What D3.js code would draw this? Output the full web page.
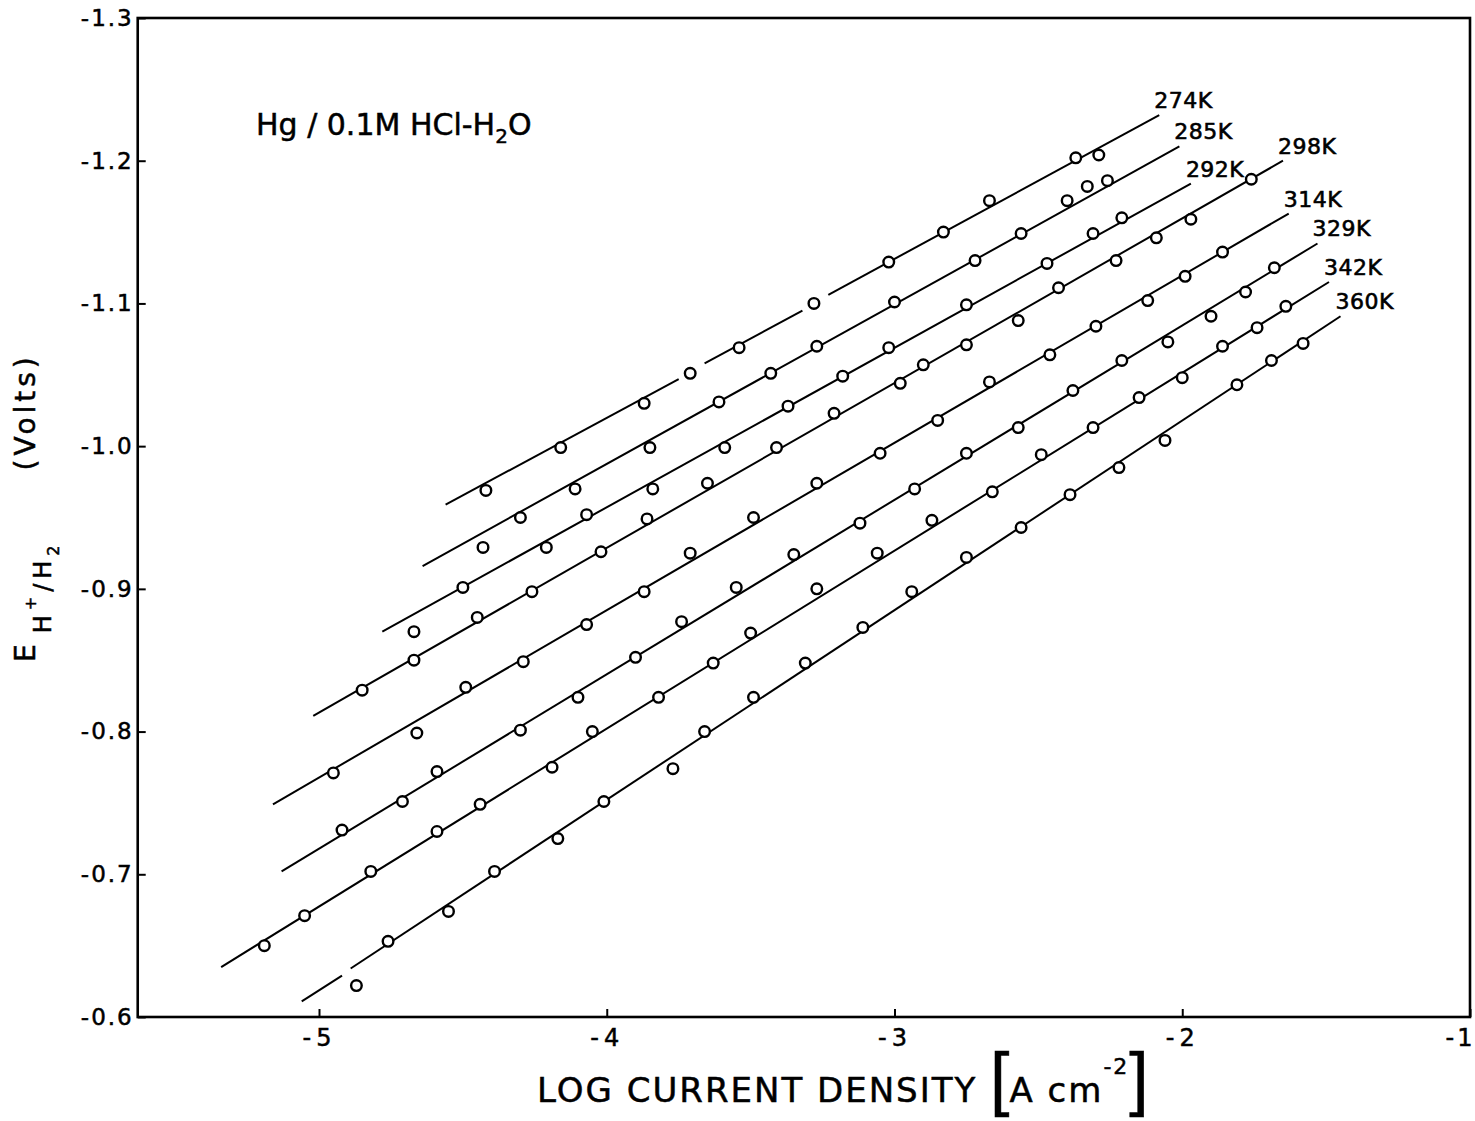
<!DOCTYPE html>
<html>
<head>
<meta charset="utf-8" />
<script src="https://d3js.org/d3.v7.min.js"></script>
<title>Hg / 0.1M HCl-H2O Tafel lines</title>
<style>
  body { margin: 0; background: #fff; }
  text { font-family: "DejaVu Sans", sans-serif; fill: #000; }
</style>
</head>
<body>
<div id="chart"></div>
<script>
// tick values and labels
var xTicks = [-5, -4, -3, -2, -1];
var xTickLabels = ["-5", "-4", "-3", "-2", "-1"];
var yTicks = [-1.3, -1.2, -1.1, -1.0, -0.9, -0.8, -0.7, -0.6];
var yTickLabels = ["-1.3", "-1.2", "-1.1", "-1.0", "-0.9", "-0.8", "-0.7", "-0.6"];

var temps = ["274K", "285K", "292K", "298K", "314K", "329K", "342K", "360K"];

// measured points [log i, E] for each temperature
var s274 = [[-4.42,-0.969],[-4.16,-0.999],[-3.87,-1.030],[-3.71,-1.051],[-3.54,-1.069],[-3.28,-1.100],
            [-3.02,-1.129],[-2.83,-1.150],[-2.67,-1.172],[-2.37,-1.202],[-2.29,-1.204]];
var s285 = [[-4.43,-0.929],[-4.30,-0.950],[-4.11,-0.970],[-3.85,-0.999],[-3.61,-1.031],[-3.43,-1.051],
            [-3.27,-1.070],[-3.00,-1.101],[-2.72,-1.130],[-2.56,-1.149],[-2.40,-1.172],[-2.33,-1.182],[-2.26,-1.186]];
var s292 = [[-4.67,-0.870],[-4.50,-0.901],[-4.21,-0.929],[-4.07,-0.952],[-3.84,-0.970],[-3.59,-0.999],
            [-3.37,-1.028],[-3.18,-1.049],[-3.02,-1.069],[-2.75,-1.099],[-2.47,-1.128],[-2.31,-1.149],[-2.21,-1.160]];
var s298 = [[-4.85,-0.829],[-4.67,-0.850],[-4.45,-0.880],[-4.26,-0.898],[-4.02,-0.926],[-3.86,-0.949],
            [-3.65,-0.974],[-3.41,-0.999],[-3.21,-1.023],[-2.98,-1.044],[-2.90,-1.057],[-2.75,-1.071],
            [-2.57,-1.088],[-2.43,-1.111],[-2.23,-1.130],[-2.09,-1.146],[-1.97,-1.159],[-1.76,-1.187]];
var s314 = [[-4.95,-0.771],[-4.66,-0.799],[-4.49,-0.831],[-4.29,-0.849],[-4.07,-0.875],[-3.87,-0.898],
            [-3.71,-0.925],[-3.49,-0.950],[-3.27,-0.974],[-3.05,-0.995],[-2.85,-1.018],[-2.67,-1.045],
            [-2.46,-1.064],[-2.30,-1.084],[-2.12,-1.102],[-1.99,-1.119],[-1.86,-1.136]];
var s329 = [[-4.92,-0.731],[-4.71,-0.751],[-4.59,-0.772],[-4.30,-0.801],[-4.10,-0.824],[-3.90,-0.852],
            [-3.74,-0.877],[-3.55,-0.901],[-3.35,-0.924],[-3.12,-0.946],[-2.93,-0.970],[-2.75,-0.995],
            [-2.57,-1.013],[-2.38,-1.039],[-2.21,-1.060],[-2.05,-1.073],[-1.90,-1.091],[-1.78,-1.108],[-1.68,-1.125]];
var s342 = [[-5.19,-0.650],[-5.05,-0.671],[-4.82,-0.702],[-4.59,-0.730],[-4.44,-0.749],[-4.19,-0.775],
            [-4.05,-0.800],[-3.82,-0.824],[-3.63,-0.848],[-3.50,-0.869],[-3.27,-0.900],[-3.06,-0.925],
            [-2.87,-0.948],[-2.66,-0.968],[-2.49,-0.994],[-2.31,-1.013],[-2.15,-1.034],[-2.00,-1.048],
            [-1.86,-1.070],[-1.74,-1.083],[-1.64,-1.098]];
var s360 = [[-4.87,-0.622],[-4.76,-0.653],[-4.55,-0.674],[-4.39,-0.702],[-4.17,-0.725],[-4.01,-0.751],
            [-3.77,-0.774],[-3.66,-0.800],[-3.49,-0.824],[-3.31,-0.848],[-3.11,-0.873],[-2.94,-0.898],
            [-2.75,-0.922],[-2.56,-0.943],[-2.39,-0.966],[-2.22,-0.985],[-2.06,-1.004],[-1.81,-1.043],
            [-1.69,-1.060],[-1.58,-1.072]];

// fitted straight lines (drawn with small breaks where the original has them)
var fit274 = [[[-4.56,-0.959],[-3.75,-1.047]], [[-3.66,-1.058],[-3.32,-1.095]], [[-3.23,-1.106],[-2.08,-1.232]]];
var fit285 = [[[-4.64,-0.916],[-2.01,-1.210]]];
var fit292 = [[[-4.78,-0.870],[-1.97,-1.184]]];
var fit298 = [[[-5.02,-0.811],[-1.65,-1.200]]];
var fit314 = [[[-5.16,-0.749],[-1.63,-1.163]]];
var fit329 = [[[-5.13,-0.702],[-1.53,-1.142]]];
var fit342 = [[[-5.34,-0.635],[-1.49,-1.115]]];
var fit360 = [[[-5.06,-0.611],[-4.92,-0.629]], [[-4.89,-0.634],[-1.45,-1.091]]];

var points = [s274, s285, s292, s298, s314, s329, s342, s360];
var fits = [fit274, fit285, fit292, fit298, fit314, fit329, fit342, fit360];

var width = 1475, height = 1121;

var svg = d3.select("#chart")
  .append("svg")
    .attr("width", width)
    .attr("height", height);

var x = d3.scaleLinear().domain([-5, -1]).range([319, 1470]);
var y = d3.scaleLinear().domain([-0.6, -1.3]).range([1017, 18]);
var xLeft = -5.63;

// frame
svg.append("rect")
  .attr("x", x(xLeft))
  .attr("y", y(-1.3))
  .attr("width", x(-1) - x(xLeft))
  .attr("height", y(-0.6) - y(-1.3))
  .attr("fill", "none")
  .attr("stroke", "#000")
  .attr("stroke-width", 2.6);

// x axis
var xAxis = svg.append("g")
  .attr("transform", "translate(0," + y(-0.6) + ")")
  .call(d3.axisBottom(x)
    .tickValues(xTicks)
    .tickSizeInner(-8)
    .tickSizeOuter(0)
    .tickPadding(12)
    .tickFormat(function(d, i) { return xTickLabels[i]; }));
xAxis.select(".domain").remove();
xAxis.selectAll("line").attr("stroke-width", 2);
xAxis.selectAll("text")
  .attr("font-family", "DejaVu Sans, sans-serif")
  .attr("font-size", 24)
  .attr("letter-spacing", 5)
  .attr("stroke", "#000")
  .attr("stroke-width", 0.5);
// the last label sits on the page edge: keep it inside
xAxis.selectAll("text")
  .filter(function(d) { return d === -1; })
  .attr("text-anchor", "end")
  .attr("letter-spacing", 3)
  .attr("dx", 5);

// y axis
var yAxis = svg.append("g")
  .attr("transform", "translate(" + x(xLeft) + ",0)")
  .call(d3.axisLeft(y)
    .tickValues(yTicks)
    .tickSizeInner(-8)
    .tickSizeOuter(0)
    .tickPadding(4)
    .tickFormat(function(d, i) { return yTickLabels[i]; }));
yAxis.select(".domain").remove();
yAxis.selectAll("line").attr("stroke-width", 2);
yAxis.selectAll("text")
  .attr("font-family", "DejaVu Sans, sans-serif")
  .attr("font-size", 23)
  .attr("letter-spacing", 2)
  .attr("stroke", "#000")
  .attr("stroke-width", 0.5);

// fitted lines
fits.forEach(function(segs) {
  svg.append("g")
    .selectAll("line")
    .data(segs)
    .enter()
    .append("line")
      .attr("x1", function(d) { return x(d[0][0]); })
      .attr("y1", function(d) { return y(d[0][1]); })
      .attr("x2", function(d) { return x(d[1][0]); })
      .attr("y2", function(d) { return y(d[1][1]); })
      .attr("stroke", "#000")
      .attr("stroke-width", 2);
});

// data points
points.forEach(function(pts) {
  svg.append("g")
    .selectAll("circle")
    .data(pts)
    .enter()
    .append("circle")
      .attr("cx", function(d) { return x(d[0]); })
      .attr("cy", function(d) { return y(d[1]); })
      .attr("r", 5.3)
      .attr("fill", "#fff")
      .attr("stroke", "#000")
      .attr("stroke-width", 2.4);
});

// temperature labels at the top end of each line
fits.forEach(function(segs, i) {
  var end = segs[segs.length - 1][1];
  svg.append("text")
    .attr("x", x(end[0]) - 5)
    .attr("y", y(end[1]) - 7)
    .attr("font-size", 22)
    .attr("letter-spacing", 0.5)
    .attr("stroke", "#000")
    .attr("stroke-width", 0.6)
    .text(temps[i]);
});

// system label
var title = svg.append("text")
  .attr("x", 256)
  .attr("y", 135)
  .attr("font-size", 30)
  .attr("stroke", "#000")
  .attr("stroke-width", 0.5);
title.append("tspan").text("Hg / 0.1M HCl-H");
title.append("tspan").attr("font-size", 20).attr("dy", 8).text("2");
title.append("tspan").attr("dy", -8).text("O");

// x axis title
var xt = svg.append("text")
  .attr("x", 537)
  .attr("y", 1102)
  .attr("font-size", 34)
  .attr("letter-spacing", 2)
  .attr("stroke", "#000")
  .attr("stroke-width", 0.5);
xt.append("tspan").text("LOG CURRENT DENSITY ");
xt.append("tspan").attr("font-size", 70).attr("font-family", "Liberation Sans, sans-serif").attr("letter-spacing", 0).text("[");
xt.append("tspan").text("A cm");
xt.append("tspan").attr("font-size", 22).attr("dy", -28).text("-2");
xt.append("tspan").attr("font-size", 70).attr("dy", 28).attr("font-family", "Liberation Sans, sans-serif").text("]");

// y axis title
var yt = svg.append("text")
  .attr("transform", "translate(35,662) rotate(-90)")
  .attr("font-size", 28)
  .attr("letter-spacing", 3)
  .attr("stroke", "#000")
  .attr("stroke-width", 0.5);
yt.append("tspan").text("E");
yt.append("tspan").attr("font-size", 24).attr("letter-spacing", 5).attr("dx", 8).attr("dy", 16).text("H");
yt.append("tspan").attr("font-size", 16).attr("letter-spacing", 5).attr("dy", -15).text("+");
yt.append("tspan").attr("font-size", 24).attr("letter-spacing", 5).attr("dy", 15).text("/H");
yt.append("tspan").attr("font-size", 16).attr("letter-spacing", 5).attr("dy", 8).text("2");
yt.append("tspan").attr("letter-spacing", 4).attr("dy", -24).attr("dx", 70).text("(Volts)");
</script>
</body>
</html>
